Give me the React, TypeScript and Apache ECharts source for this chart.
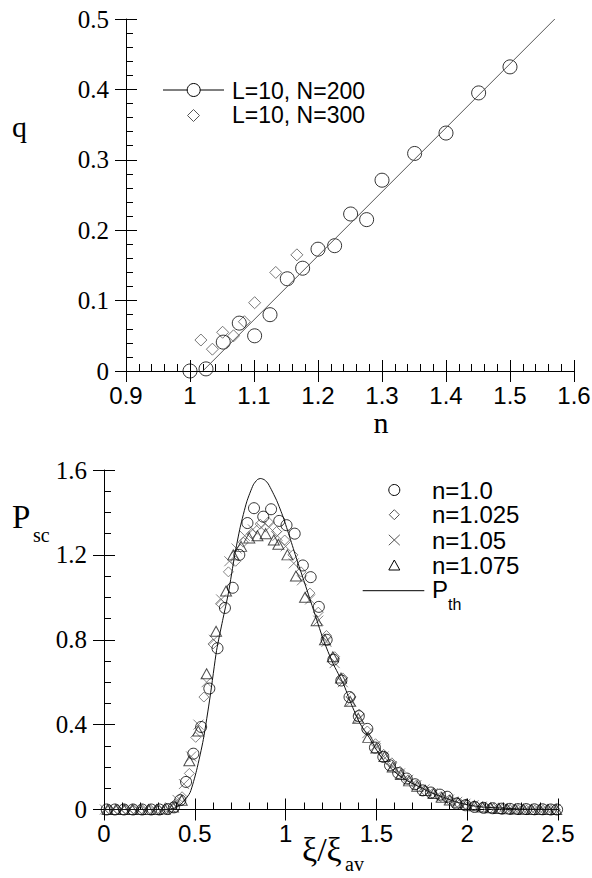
import React, { useEffect, useRef } from "react";
import * as echarts from "echarts";

// ---------- Top panel data ----------
const nCircles = [1.0, 1.025, 1.052, 1.077, 1.101, 1.125, 1.152, 1.176, 1.2, 1.226, 1.251, 1.276, 1.3, 1.351, 1.4, 1.451, 1.5];
const qCircles = [0.0, 0.003, 0.041, 0.068, 0.05, 0.08, 0.131, 0.146, 0.173, 0.178, 0.223, 0.215, 0.271, 0.309, 0.338, 0.395, 0.432];
const nDiamonds = [1.017, 1.035, 1.051, 1.068, 1.085, 1.101, 1.134, 1.167];
const qDiamonds = [0.044, 0.031, 0.055, 0.05, 0.07, 0.097, 0.14, 0.165];
const fitN = [1.02, 1.57];
const fitQ = [0.0, 0.5];
const topLegend = ["L=10, N=200", "L=10, N=300"];

// ---------- Bottom panel data ([xi/xi_av, P_sc]) ----------
const pN100: number[][] = [
  [0.015, 0], [0.06, 0], [0.11, 0], [0.16, 0], [0.21, 0], [0.26, 0], [0.305, 0], [0.35, 0.002],
  [0.385, 0.01], [0.42, 0.044], [0.452, 0.13], [0.492, 0.263], [0.535, 0.389], [0.58, 0.57],
  [0.625, 0.76], [0.666, 0.95], [0.709, 1.045], [0.745, 1.2], [0.79, 1.35], [0.826, 1.42],
  [0.877, 1.38], [0.92, 1.415], [0.965, 1.36], [1.005, 1.34], [1.05, 1.3], [1.095, 1.15],
  [1.138, 1.095], [1.183, 0.955], [1.226, 0.8], [1.263, 0.706], [1.307, 0.608], [1.352, 0.53],
  [1.403, 0.44], [1.45, 0.38], [1.492, 0.292], [1.538, 0.248], [1.575, 0.208], [1.62, 0.172],
  [1.667, 0.146], [1.713, 0.119], [1.755, 0.09], [1.8, 0.08], [1.85, 0.07], [1.89, 0.06],
  [1.94, 0.028], [1.99, 0.02], [2.04, 0.012], [2.09, 0.008], [2.14, 0.006], [2.19, 0.004],
  [2.235, 0.003], [2.28, 0.002], [2.325, 0.002], [2.37, 0.001], [2.415, 0.001], [2.46, 0], [2.495, 0],
];
const pN1025: number[][] = [
  [0.03, 0], [0.075, 0], [0.12, 0], [0.165, 0], [0.21, 0], [0.255, 0], [0.3, 0], [0.345, 0.004],
  [0.39, 0.025], [0.43, 0.06], [0.47, 0.17], [0.505, 0.34], [0.55, 0.53], [0.6, 0.78],
  [0.642, 0.97], [0.685, 1.12], [0.725, 1.17], [0.767, 1.26], [0.813, 1.3], [0.86, 1.345],
  [0.905, 1.355], [0.95, 1.31], [0.995, 1.27], [1.04, 1.2], [1.085, 1.12], [1.134, 1.02],
  [1.18, 0.93], [1.225, 0.82], [1.27, 0.72], [1.315, 0.62], [1.36, 0.53], [1.405, 0.45],
  [1.45, 0.37], [1.495, 0.31], [1.54, 0.26], [1.585, 0.22], [1.63, 0.18], [1.675, 0.14],
  [1.72, 0.115], [1.765, 0.09], [1.81, 0.075], [1.855, 0.06], [1.9, 0.045], [1.945, 0.035],
  [1.99, 0.025], [2.035, 0.016], [2.08, 0.01], [2.125, 0.007], [2.17, 0.005], [2.215, 0.003],
  [2.26, 0.002], [2.305, 0.001], [2.35, 0], [2.395, 0], [2.44, 0], [2.485, 0],
];
const pN105: number[][] = [
  [0.005, 0], [0.05, 0], [0.095, 0], [0.14, 0], [0.185, 0], [0.23, 0], [0.275, 0], [0.32, 0.002],
  [0.365, 0.01], [0.405, 0.045], [0.44, 0.12], [0.48, 0.25], [0.52, 0.4], [0.565, 0.6],
  [0.605, 0.8], [0.645, 0.99], [0.69, 1.17], [0.73, 1.23], [0.775, 1.29], [0.82, 1.32],
  [0.865, 1.33], [0.91, 1.33], [0.955, 1.29], [1.0, 1.24], [1.045, 1.16], [1.09, 1.08],
  [1.135, 0.99], [1.18, 0.89], [1.225, 0.79], [1.27, 0.69], [1.315, 0.6], [1.36, 0.51],
  [1.405, 0.43], [1.45, 0.36], [1.495, 0.3], [1.54, 0.25], [1.585, 0.205], [1.63, 0.17],
  [1.675, 0.14], [1.72, 0.115], [1.765, 0.095], [1.81, 0.077], [1.855, 0.06], [1.9, 0.047],
  [1.945, 0.036], [1.99, 0.027], [2.035, 0.02], [2.08, 0.014], [2.125, 0.01], [2.17, 0.006],
  [2.215, 0.004], [2.26, 0.002], [2.305, 0.001], [2.35, 0], [2.395, 0], [2.44, 0], [2.485, 0],
];
const pN1075: number[][] = [
  [0.02, 0], [0.065, 0], [0.11, 0], [0.155, 0], [0.2, 0], [0.245, 0], [0.29, 0], [0.335, 0.002],
  [0.38, 0.012], [0.428, 0.044], [0.47, 0.23], [0.519, 0.37], [0.565, 0.64], [0.617, 0.84],
  [0.672, 1.03], [0.712, 1.2], [0.755, 1.24], [0.8, 1.28], [0.845, 1.29], [0.89, 1.3],
  [0.935, 1.27], [0.96, 1.25], [1.01, 1.2], [1.057, 1.1], [1.107, 1.0], [1.171, 0.89],
  [1.217, 0.8], [1.26, 0.72], [1.305, 0.62], [1.355, 0.51], [1.4, 0.43], [1.455, 0.34],
  [1.5, 0.29], [1.545, 0.25], [1.59, 0.2], [1.635, 0.165], [1.68, 0.135], [1.725, 0.11],
  [1.77, 0.09], [1.815, 0.075], [1.86, 0.058], [1.905, 0.045], [1.95, 0.034], [1.995, 0.025],
  [2.04, 0.018], [2.085, 0.012], [2.13, 0.008], [2.175, 0.005], [2.22, 0.003], [2.265, 0.002],
  [2.31, 0.001], [2.355, 0], [2.4, 0], [2.445, 0], [2.49, 0],
];
const pTheory: number[][] = [
  [0, 0], [0.35, 0], [0.4, 0.01], [0.437, 0.036], [0.474, 0.08], [0.51, 0.185], [0.547, 0.33],
  [0.584, 0.53], [0.62, 0.75], [0.653, 0.89], [0.685, 1.02], [0.72, 1.2], [0.75, 1.33],
  [0.786, 1.45], [0.822, 1.53], [0.845, 1.555], [0.863, 1.56], [0.885, 1.553], [0.905, 1.534],
  [0.951, 1.456], [0.987, 1.377], [1.024, 1.28], [1.061, 1.18], [1.1, 1.08], [1.15, 0.95],
  [1.208, 0.8], [1.26, 0.69], [1.318, 0.593], [1.36, 0.5], [1.41, 0.405], [1.46, 0.34],
  [1.502, 0.279], [1.55, 0.22], [1.612, 0.169], [1.67, 0.135], [1.74, 0.106], [1.8, 0.08],
  [1.887, 0.052], [1.95, 0.033], [2.015, 0.02], [2.08, 0.012], [2.16, 0.008], [2.3, 0.002], [2.5, 0],
];
const bottomLegend = ["n=1.0", "n=1.025", "n=1.05", "n=1.075"];

const SANS = "Liberation Sans";
const SERIF = "Liberation Serif";
const CROSS = "path://M0,0L10,10M0,10L10,0";

function mainX(gridIndex: number, min: number, max: number, interval: number, minor: number) {
  return {
    type: "value", gridIndex, min, max, interval, position: "bottom",
    axisLine: { show: true, onZero: false, lineStyle: { color: "#000", width: 1 } },
    axisTick: { show: true, inside: true, length: 11, lineStyle: { color: "#000", width: 1 } },
    minorTick: { show: true, splitNumber: minor, length: 7, lineStyle: { color: "#000", width: 1 } },
    axisLabel: {
      show: true, margin: 12, fontFamily: SANS, fontSize: 24, color: "#000",
      formatter: "{s|{value}}",
      rich: { s: { fontFamily: SANS, fontSize: 24, color: "#000" } },
    },
    splitLine: { show: false }, minorSplitLine: { show: false },
  };
}
function secX(gridIndex: number, min: number, max: number, interval: number) {
  return {
    type: "value", gridIndex, min, max, interval, position: "bottom",
    axisLine: { show: false, onZero: false },
    axisTick: { show: true, inside: false, length: 11, lineStyle: { color: "#000", width: 1 } },
    minorTick: { show: false }, axisLabel: { show: false }, splitLine: { show: false },
  };
}
function mainY(gridIndex: number, min: number, max: number, interval: number, minor: number) {
  return {
    type: "value", gridIndex, min, max, interval, position: "left",
    axisLine: { show: true, onZero: false, lineStyle: { color: "#000", width: 1 } },
    axisTick: { show: true, inside: true, length: 11, lineStyle: { color: "#000", width: 1 } },
    minorTick: { show: true, splitNumber: minor, length: 7, lineStyle: { color: "#000", width: 1 } },
    axisLabel: {
      show: true, margin: 17, color: "#000", fontFamily: SERIF, fontSize: 25,
      formatter: "{s|{value}}",
      rich: { s: { fontFamily: SERIF, fontSize: 25, color: "#000" } },
    },
    splitLine: { show: false }, minorSplitLine: { show: false },
  };
}
function secY(gridIndex: number, min: number, max: number, interval: number) {
  return {
    type: "value", gridIndex, min, max, interval, position: "left",
    axisLine: { show: false, onZero: false },
    axisTick: { show: true, inside: false, length: 11, lineStyle: { color: "#000", width: 1 } },
    minorTick: { show: false }, axisLabel: { show: false }, splitLine: { show: false },
  };
}

function hollow(color: string) {
  return { color: "rgba(0,0,0,0)", borderColor: color, borderWidth: 1 };
}

export default function App() {
  const ref = useRef<HTMLDivElement>(null);
  useEffect(() => {
    if (!ref.current) return;
    const chart = echarts.init(ref.current, null, { renderer: "svg" });
    const txt = (text: string, x: number, y: number, font: string, size: number, align = "left") => ({
      type: "text", x, y,
      style: { text, fontFamily: font, fontSize: size, fill: "#000", textAlign: align, textVerticalAlign: "middle" },
    });
    const graphic: any[] = [
      // axis titles
      txt("q", 12, 126, SERIF, 30),
      txt("n", 381, 422, SERIF, 30, "center"),
      txt("P", 12, 517, SERIF, 33),
      txt("sc", 33, 535, SERIF, 20),
      txt("ξ/ξ", 302, 849, SERIF, 34),
      txt("av", 345, 864, SERIF, 20),
      // top legend
      { type: "line", shape: { x1: 163, y1: 90, x2: 224, y2: 90 }, style: { stroke: "#000", lineWidth: 1 } },
      { type: "circle", shape: { cx: 193.7, cy: 90, r: 6.5 }, style: { fill: "#fff", stroke: "#000", lineWidth: 1 } },
      { type: "polygon", shape: { points: [[193.5, 109.5], [199.5, 115.5], [193.5, 121.5], [187.5, 115.5]] }, style: { fill: "none", stroke: "#555", lineWidth: 1 } },
      txt(topLegend[0], 232, 90.5, SANS, 23),
      txt(topLegend[1], 232, 115, SANS, 23),
      // bottom legend
      { type: "circle", shape: { cx: 394.3, cy: 490, r: 5.5 }, style: { fill: "none", stroke: "#000", lineWidth: 1 } },
      { type: "polygon", shape: { points: [[394.3, 509.7], [399.3, 514.7], [394.3, 519.7], [389.3, 514.7]] }, style: { fill: "none", stroke: "#555", lineWidth: 1 } },
      { type: "line", shape: { x1: 388.8, y1: 534.8, x2: 399.8, y2: 545.2 }, style: { stroke: "#555", lineWidth: 1 } },
      { type: "line", shape: { x1: 388.8, y1: 545.2, x2: 399.8, y2: 534.8 }, style: { stroke: "#555", lineWidth: 1 } },
      { type: "polygon", shape: { points: [[394.3, 560], [399.8, 570], [388.8, 570]] }, style: { fill: "none", stroke: "#000", lineWidth: 1 } },
      { type: "line", shape: { x1: 362.7, y1: 590.7, x2: 424.3, y2: 590.7 }, style: { stroke: "#000", lineWidth: 1 } },
      txt(bottomLegend[0], 432, 490, SANS, 24),
      txt(bottomLegend[1], 432, 514.7, SANS, 24),
      txt(bottomLegend[2], 432, 540, SANS, 24),
      txt(bottomLegend[3], 432, 565, SANS, 24),
      txt("P", 432, 589.5, SANS, 24),
      txt("th", 448, 604, SANS, 16),
    ];
    const option: any = {
      animation: false,
      backgroundColor: "#fff",
      grid: [
        { left: 126, top: 19, width: 448, height: 352, containLabel: false, outerBoundsMode: "none" },
        { left: 104, top: 470, width: 454, height: 339.5, containLabel: false, outerBoundsMode: "none" },
      ],
      xAxis: [mainX(0, 0.9, 1.6, 0.1, 5), secX(0, 0.9, 1.6, 0.1), mainX(1, 0, 2.5, 0.5, 5), secX(1, 0, 2.5, 0.5)],
      yAxis: [mainY(0, 0, 0.5, 0.1, 5), secY(0, 0, 0.5, 0.1), mainY(1, 0, 1.6, 0.4, 4), secY(1, 0, 1.6, 0.4)],
      series: [
        {
          type: "line", xAxisIndex: 0, yAxisIndex: 0, showSymbol: false, silent: true,
          data: fitN.map((n, i) => [n, fitQ[i]]),
          lineStyle: { color: "#555", width: 1 },
        },
        {
          type: "scatter", xAxisIndex: 0, yAxisIndex: 0, symbol: "diamond", symbolSize: 12,
          data: nDiamonds.map((n, i) => [n, qDiamonds[i]]), itemStyle: hollow("#555"),
        },
        {
          type: "scatter", xAxisIndex: 0, yAxisIndex: 0, symbol: "circle", symbolSize: 14,
          data: nCircles.map((n, i) => [n, qCircles[i]]), itemStyle: hollow("#000"),
        },
        {
          type: "line", xAxisIndex: 2, yAxisIndex: 2, showSymbol: false, silent: true, smooth: 0.2,
          data: pTheory, lineStyle: { color: "#111", width: 1 },
        },
        {
          type: "scatter", xAxisIndex: 2, yAxisIndex: 2, symbol: CROSS, symbolSize: [10, 10],
          data: pN105, itemStyle: hollow("#666"),
        },
        {
          type: "scatter", xAxisIndex: 2, yAxisIndex: 2, symbol: "diamond", symbolSize: 10,
          data: pN1025, itemStyle: hollow("#666"),
        },
        {
          type: "scatter", xAxisIndex: 2, yAxisIndex: 2, symbol: "triangle", symbolSize: [11, 10],
          data: pN1075, itemStyle: hollow("#222"),
        },
        {
          type: "scatter", xAxisIndex: 2, yAxisIndex: 2, symbol: "circle", symbolSize: 11,
          data: pN100, itemStyle: hollow("#000"),
        },
      ],
      graphic,
    };
    chart.setOption(option);
    return () => chart.dispose();
  }, []);
  return (
    <div
      ref={ref}
      style={{ position: "fixed", left: 0, top: 0, width: 592, height: 878, background: "#fff" }}
    />
  );
}
